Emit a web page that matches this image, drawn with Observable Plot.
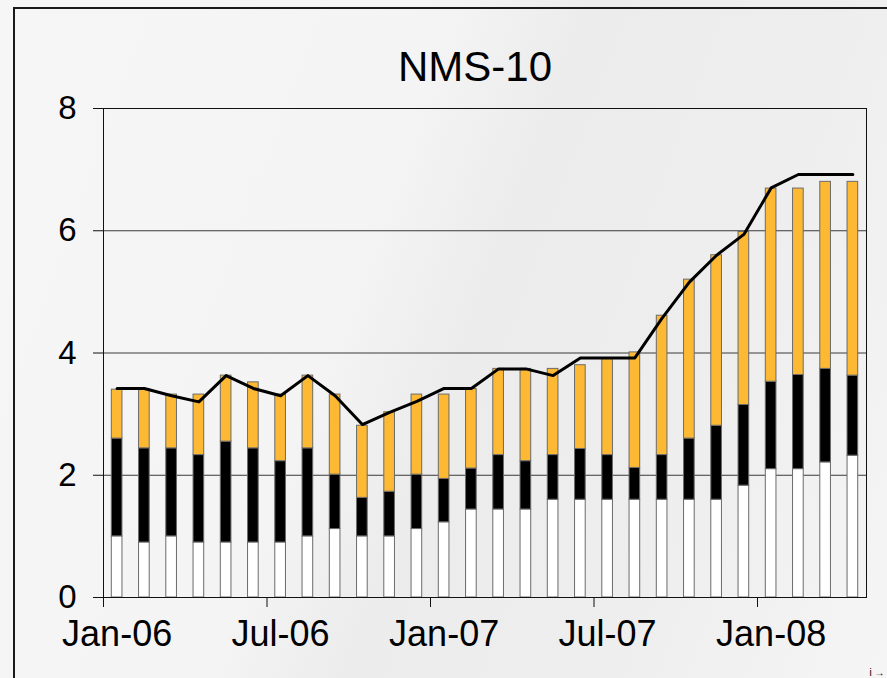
<!DOCTYPE html>
<html>
<head>
<meta charset="utf-8">
<script src="https://cdn.jsdelivr.net/npm/d3@7"></script>
<script src="https://cdn.jsdelivr.net/npm/@observablehq/plot@0.6"></script>
<style>
  html, body { margin: 0; padding: 0; }
  body {
    width: 887px; height: 678px; overflow: hidden; position: relative;
    background: linear-gradient(110deg, #f6f6f6 0%, #f4f4f4 40%, #ececec 52%, #eeeeee 75%, #f5f5f5 100%);
    font-family: "Liberation Sans", Arial, sans-serif;
  }
  #frame {
    position: absolute; left: 13px; top: 7px; width: 1000px; height: 1000px;
    border: 2px solid #1a1a1a; box-sizing: border-box;
  }
  #chart { position: absolute; left: 0; top: 0; }
</style>
</head>
<body>
<div id="frame"></div>
<div id="chart"></div>
<script>
const title = "NMS-10";
const months = ["Jan-06","Feb-06","Mar-06","Apr-06","May-06","Jun-06","Jul-06","Aug-06","Sep-06","Oct-06","Nov-06","Dec-06",
                "Jan-07","Feb-07","Mar-07","Apr-07","May-07","Jun-07","Jul-07","Aug-07","Sep-07","Oct-07","Nov-07","Dec-07",
                "Jan-08","Feb-08","Mar-08","Apr-08"];
const tickLabels = ["Jan-06","Jul-06","Jan-07","Jul-07","Jan-08"];
const yTicks = [0, 2, 4, 6, 8];
const seriesNames = ["Component A", "Component B", "Component C"];

const seriesA = [1.0,0.9,1.0,0.9,0.9,0.9,0.9,1.0,1.12,1.0,1.0,1.12,1.23,1.44,1.44,1.44,1.6,1.6,1.6,1.6,1.6,1.6,1.6,1.83,2.1,2.1,2.21,2.32];
const seriesB = [1.6,1.54,1.44,1.43,1.65,1.54,1.33,1.44,0.89,0.63,0.73,0.89,0.71,0.67,0.89,0.79,0.73,0.83,0.73,0.52,0.73,1.0,1.21,1.32,1.43,1.54,1.53,1.31];
const seriesC = [0.8,0.97,0.88,0.99,1.08,1.08,1.09,1.19,1.31,1.18,1.3,1.31,1.38,1.3,1.41,1.51,1.41,1.37,1.58,1.89,2.28,2.6,2.79,2.83,3.16,3.05,3.06,3.17];
const lineValues = [3.42,3.42,3.3,3.2,3.63,3.42,3.3,3.63,3.3,2.83,3.03,3.21,3.42,3.42,3.74,3.74,3.63,3.92,3.92,3.92,4.57,5.16,5.6,5.94,6.7,6.92,6.92,6.92];

// Build stacked table
const seriesValues = [seriesA, seriesB, seriesC];
const rows = [];
months.forEach((m, i) => {
  let base = 0;
  seriesValues.forEach((vals, s) => {
    rows.push({i, month: m, series: seriesNames[s], y1: base, y2: base + vals[i]});
    base += vals[i];
  });
});
const lineRows = months.map((m, i) => ({i, month: m, value: lineValues[i]}));
const tickRows = tickLabels.map(l => ({i: months.indexOf(l), label: l}));

const chart = Plot.plot({
  width: 887,
  height: 678,
  marginLeft: 103,
  marginRight: 21,
  marginTop: 108,
  marginBottom: 81,
  style: { background: "transparent", fontFamily: "'Liberation Sans', Arial, sans-serif", color: "#000" },
  x: { type: "linear", domain: [0, months.length], axis: null },
  y: { domain: [0, 8], axis: null },
  color: { domain: seriesNames, range: ["#ffffff", "#000000", "#FDB933"] },
  marks: [
    Plot.gridY([2, 4, 6], { stroke: "#3a3a3a", strokeOpacity: 1, strokeWidth: 1 }),
    Plot.rect(rows, {
      x1: "i", x2: d => d.i + 1, y1: "y1", y2: "y2",
      fill: "series", stroke: "#6b6b6b", strokeWidth: 1,
      insetLeft: 8.3, insetRight: 8.3
    }),
    Plot.line(lineRows, { x: d => d.i + 0.5, y: "value", stroke: "#000", strokeWidth: 3, strokeLinejoin: "round" }),
    Plot.frame({ stroke: "#111", strokeWidth: 1 }),
    Plot.axisY(yTicks, { tickSize: 10, tickPadding: 17, fontSize: 33, stroke: "#111", tickFormat: d3.format("d") }),
    Plot.axisX(tickRows.map(d => d.i), { tickSize: 10, tickFormat: () => "", stroke: "#111" }),
    Plot.text(tickRows, { x: d => d.i + 0.5, frameAnchor: "bottom", dy: 48, text: "label", fontSize: 36, fill: "#000" }),
    Plot.text([title], { frameAnchor: "top", dy: -57, dx: -10, text: d => d, fontSize: 42, fill: "#000" })
  ]
});
document.getElementById("chart").appendChild(chart);
</script>
</body>
</html>
